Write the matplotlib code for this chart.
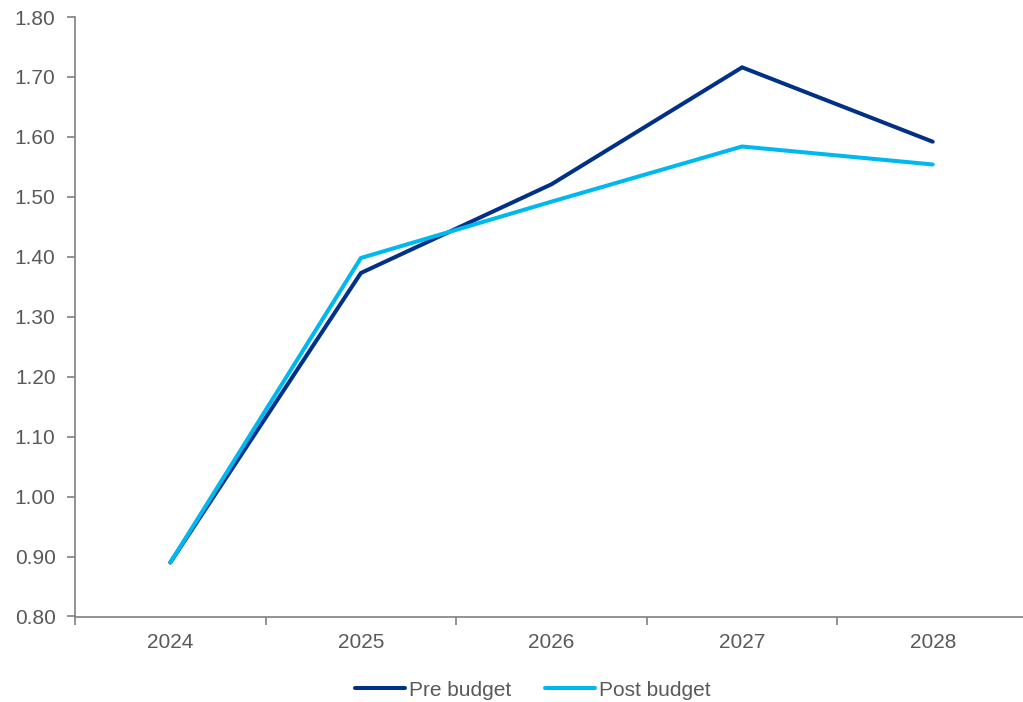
import matplotlib.pyplot as plt
import numpy as np

plt.rcParams['font.family'] = ['Liberation Sans', 'DejaVu Sans']

years = ['2024', '2025', '2026', '2027', '2028']
pre_budget = [0.89, 1.373, 1.521, 1.716, 1.592]
post_budget = [0.89, 1.398, 1.492, 1.584, 1.554]

grey = '#595959'
x = np.arange(len(years))

fig = plt.figure(figsize=(10.23, 7.02), dpi=100)
ax = fig.add_axes([75 / 1023, 85.5 / 702, 953 / 1023, 599.5 / 702])

ax.plot(x, pre_budget, color='#003087', lw=2.9, label='Pre budget',
        solid_capstyle='round', solid_joinstyle='miter')
ax.plot(x, post_budget, color='#00B8F0', lw=2.9, label='Post budget',
        solid_capstyle='round', solid_joinstyle='miter')

ax.set_xlim(-0.5, len(years) - 0.5)
ax.set_ylim(0.8, 1.8)
ax.set_yticks(np.arange(0.8, 1.81, 0.1))
ax.set_yticklabels([f'{v:.2f}' for v in np.arange(0.8, 1.81, 0.1)])

# category labels in the middle, tick marks on the boundaries
ax.set_xticks(x)
ax.set_xticklabels(years)
ax.set_xticks(np.arange(-0.5, len(years), 1.0), minor=True)
ax.tick_params(axis='x', which='major', length=0, pad=12)
ax.tick_params(axis='x', which='minor', length=6, width=1.2, color='#808080')
ax.tick_params(axis='y', length=6, width=1.2, color='#808080', pad=8)
ax.tick_params(labelsize=15, labelcolor=grey)

for side in ['top', 'right']:
    ax.spines[side].set_visible(False)
for side in ['left', 'bottom']:
    ax.spines[side].set_color('#808080')
    ax.spines[side].set_linewidth(1.2)

fig.legend(loc='center', bbox_to_anchor=(533 / 1023, 1 - 690 / 702), ncol=2,
           frameon=False, fontsize=15, labelcolor=grey, handlelength=2.4,
           handletextpad=0.2, columnspacing=1.6)

fig.savefig('out.png', dpi=100)
